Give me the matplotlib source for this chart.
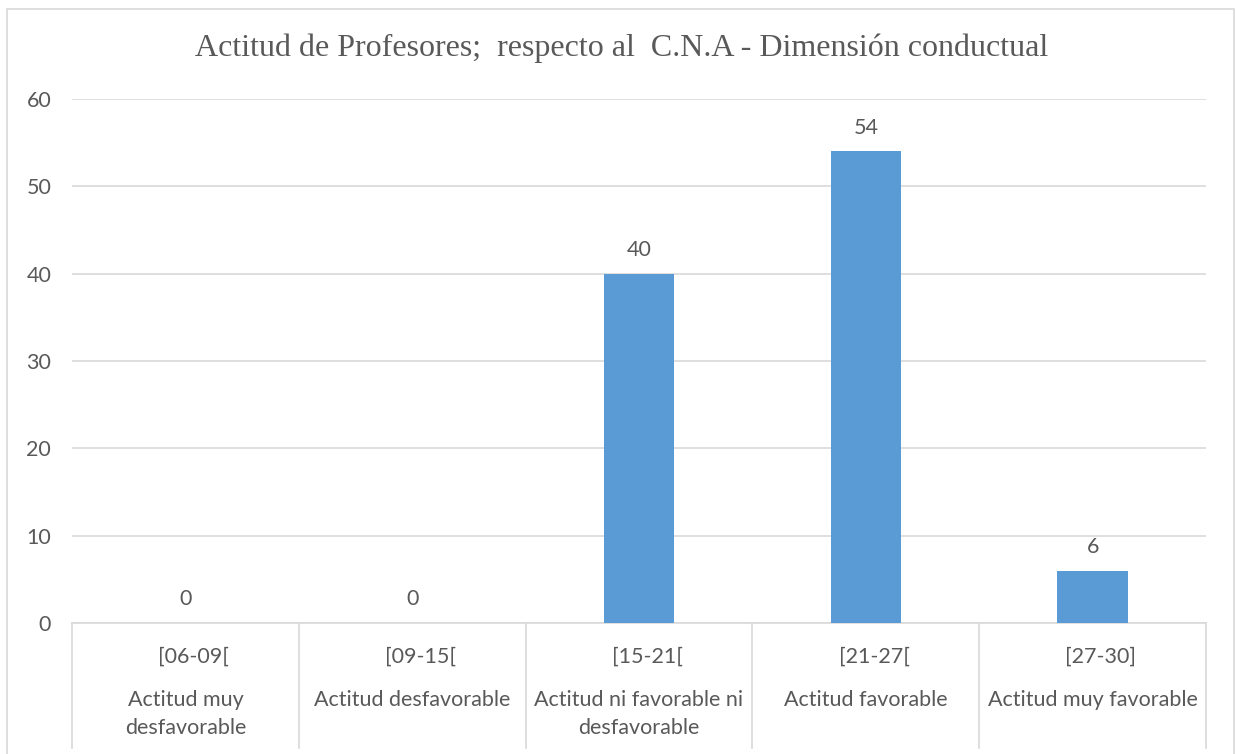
import matplotlib
matplotlib.use("Agg")
import matplotlib.pyplot as plt
from matplotlib.patches import Rectangle

# --- Datos ---
rangos = ["[06-09[", "[09-15[", "[15-21[", "[21-27[", "[27-30]"]
actitudes = ["Actitud muy\ndesfavorable", "Actitud desfavorable",
             "Actitud ni favorable ni\ndesfavorable", "Actitud favorable",
             "Actitud muy favorable"]
profesores = [0, 0, 40, 54, 6]
ticks_y = [0, 10, 20, 30, 40, 50, 60]

titulo = "Actitud de Profesores;  respecto al  C.N.A - Dimensión conductual"

GRIS_TXT = "#595959"
GRIS_LIN = "#d9d9d9"
AZUL = "#5b9bd5"
FUENTE = "Lato"
TAM = 15.5

fig = plt.figure(figsize=(12.35, 7.54), dpi=100)
ax = fig.add_axes([72 / 1235, 1 - 623 / 754, (1206 - 72) / 1235, (623 - 99) / 754])

# borde exterior del gráfico
fig.patches.append(Rectangle((7 / 1235, -0.05), (1234 - 7) / 1235, 1.05 - 9 / 754,
                             transform=fig.transFigure, fill=False,
                             edgecolor=GRIS_LIN, lw=1.2, clip_on=False))

x = list(range(len(profesores)))
ax.bar(x, profesores, width=0.31, color=AZUL, zorder=3)

for xi, v in zip(x, profesores):
    ax.annotate(str(v), (xi, v), xytext=(0, 10), textcoords="offset points",
                ha="center", va="bottom", fontsize=TAM, color=GRIS_TXT, family=FUENTE)

ax.set_xlim(-0.5, len(x) - 0.5)
ax.set_ylim(0, 60)
ax.set_yticks(ticks_y)
ax.set_yticklabels([str(t) for t in ticks_y], fontsize=TAM, color=GRIS_TXT, family=FUENTE)
ax.tick_params(axis="y", length=0, pad=15)
ax.set_xticks([])
ax.yaxis.grid(True, color=GRIS_LIN, lw=1.2)
ax.set_axisbelow(True)
for s in ax.spines.values():
    s.set_visible(False)

# eje de categorías en dos niveles
trans = ax.get_xaxis_transform()
ax.plot([-0.5, len(x) - 0.5], [0, 0], transform=trans, color=GRIS_LIN, lw=1.2, clip_on=False)
for k in range(len(x) + 1):
    ax.plot([k - 0.5, k - 0.5], [0, -0.2386], transform=trans, color=GRIS_LIN,
            lw=1.2, clip_on=False)

for xi, r, a in zip(x, rangos, actitudes):
    ax.annotate(r, (xi, 0), xycoords=trans, xytext=(6, -24.5), textcoords="offset points",
                ha="center", va="center", fontsize=TAM, color=GRIS_TXT, family=FUENTE)
    ax.annotate(a, (xi, 0), xycoords=trans, xytext=(0, -48), textcoords="offset points",
                ha="center", va="top", fontsize=TAM, color=GRIS_TXT, family=FUENTE,
                linespacing=1.5)

fig.text(622 / 1235, 1 - 48 / 754, titulo, ha="center", va="center",
         fontsize=23, color=GRIS_TXT, family="Liberation Serif")

fig.savefig("out.png", dpi=100)
